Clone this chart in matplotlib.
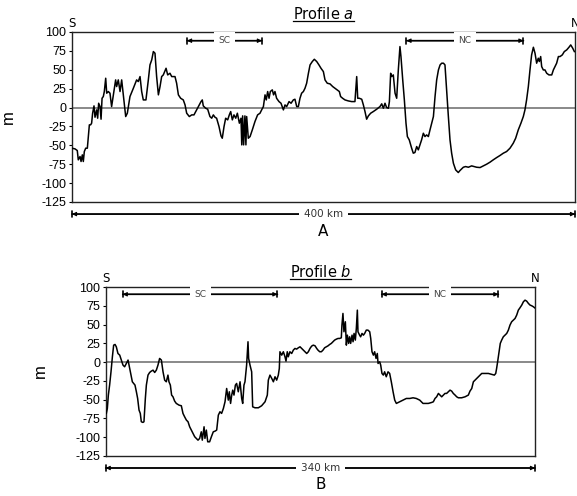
import matplotlib
matplotlib.use("Agg")
import matplotlib.pyplot as plt
from matplotlib.lines import Line2D

# ---------------- data ----------------
a_km = [0.0, 2.4, 4.2, 5.0, 6.4, 7.2, 8.2, 9.0, 9.8, 10.9, 12.2, 13.0, 13.8, 14.8, 15.6,
        16.4, 17.5, 18.3, 19.6, 20.4, 21.2, 22.3, 23.1, 23.9, 24.9, 25.7, 26.8, 27.6, 28.9,
        30.2, 31.5, 32.9, 34.7, 35.5, 36.8, 38.2, 39.5, 40.8, 42.7, 44.0, 46.1, 48.8, 51.4,
        52.7, 54.1, 55.4, 56.7, 58.8, 60.7, 62.0, 63.4, 64.7, 66.0, 67.3, 68.7, 70.0, 71.3,
        72.6, 74.8, 76.1, 77.9, 79.3, 81.9, 83.2, 84.6, 86.4, 88.5, 89.9, 91.2, 93.3, 95.2,
        97.0,
        100.5, 102.6, 103.6, 104.4, 106.3, 107.9, 109.7, 111.1, 112.4, 113.7, 115.0, 116.9,
        118.5, 119.5, 120.9, 122.2, 123.8, 125.1, 126.2, 127.5, 128.8, 130.2, 131.5, 133.1,
        134.4, 135.0, 135.7, 136.5, 137.5, 138.3, 138.9, 140.2, 141.6, 143.4, 145.5, 147.6,
        149.5, 150.8, 152.2, 153.5, 154.5, 155.6, 156.7, 157.7, 159.3, 160.3, 161.4, 162.7,
        164.6, 166.2, 168.1, 169.4, 170.7, 172.6, 174.2, 176.0, 177.3, 178.7, 180.0, 181.3,
        182.6, 184.0, 185.3, 186.6, 188.0, 189.3, 191.1, 192.7, 194.6, 196.4, 198.0,
        199.9, 201.2, 203.0, 205.2, 207.3, 209.1, 211.0, 212.6, 213.6, 215.2, 217.1, 219.7,
        222.4, 225.0, 226.4, 227.2, 228.5, 230.4, 231.7, 233.0, 234.3, 235.7, 237.5, 239.6,
        242.3, 244.9, 246.3, 247.6, 248.9, 250.2, 251.6, 252.4, 253.4, 254.2, 255.5, 256.9,
        258.2, 259.5, 260.8, 261.6, 263.0, 264.3, 265.6, 266.7, 268.2, 270.1, 271.4, 272.7,
        274.1, 275.4, 276.7, 278.0, 279.4, 280.7, 282.0, 283.4, 284.7, 287.4, 288.7, 290.0,
        291.4, 292.7, 294.0, 295.4, 296.6,
        297.9, 299.3, 300.6, 301.9, 303.3, 305.1, 307.2, 308.5, 311.2, 313.0, 315.2, 317.8,
        319.9, 321.8, 324.5, 327.1, 329.7, 332.4, 335.0, 337.7, 340.3, 343.0, 345.6, 348.3,
        350.9, 352.8, 354.9, 357.0, 358.9, 360.2, 361.5, 362.9, 364.2, 365.5, 366.9, 368.2,
        369.5, 370.8, 371.6, 372.7, 373.5, 374.8, 376.1, 377.5, 379.3, 381.5, 382.8, 384.1,
        385.4, 386.8, 388.1, 389.9, 391.5, 393.4, 395.2, 396.6, 398.2, 399.5]
a_m = [-53.8, -54.7, -56.9, -69.2, -64.8, -71.4, -62.6, -71.4, -58.2, -53.8, -53.8, -38.4,
       -22.9, -22.9, -20.7, -7.5, 2.2, -12.8, -3.1, -14.1, 5.7, 1.3, -15.4, 12.3, 14.6, 21.2,
       38.8, 19.0, 21.2, 19.0, 1.3, 16.8, 36.6, 27.8, 36.6, 21.2, 36.6, 16.8, -11.9, -7.5,
       14.6, 25.6, 36.6, 34.4, 41.0, 21.2, 10.1, 10.1, 36.6, 56.4, 63.1, 74.1, 71.9, 41.0,
       16.8, 27.8, 41.0, 43.2, 52.0, 43.2, 45.4, 41.0, 41.0, 32.2, 16.8, 12.3, 10.1, 3.5,
       -7.5, -11.9, -9.7, -9.7,
       1.3, 7.9, 10.1, 2.2, -0.9, -2.2, -11.9, -14.1, -9.7, -12.8, -14.1, -25.1, -37.5,
       -40.6, -25.1, -14.1, -16.3, -9.7, -5.3, -16.3, -9.7, -14.1, -7.5, -20.7, -14.1,
       -49.4, -11.0, -49.4, -11.0, -49.4, -11.9, -40.6, -38.4, -29.5, -18.5, -9.7, -7.5,
       -3.1, 1.3, 16.8, 10.1, 21.2, 12.3, 21.2, 23.4, 16.8, 21.2, 12.3, 7.9, 5.7, -3.1,
       3.5, 1.3, 7.9, 5.7, 10.1, 11.0, 1.3, 1.3, 12.3, 19.0, 21.2, 25.6, 32.2, 45.4, 56.4,
       60.9, 63.9, 60.9, 56.4, 52.0,
       47.6, 36.6, 32.2, 31.3, 27.8, 25.6, 23.4, 21.2, 14.6, 12.3, 10.1, 8.8, 7.9, 7.9,
       41.0, 12.3, 12.3, 11.0, 3.5, -5.3, -15.4, -11.0, -7.5, -5.3, -2.2, 1.3, 4.9, -0.9,
       5.7, 0.0, -0.9, 7.9, 45.4, 41.0, 43.2, 19.0, 12.3, 49.8, 80.7, 67.5, 36.6, 10.1,
       -20.7, -38.4, -42.8, -53.8, -60.4, -59.5, -51.6, -56.0, -49.4, -42.8, -34.0, -38.4,
       -36.2, -38.4, -29.5, -11.9, 14.6, 36.6, 49.8, 56.4, 58.7, 58.7, 56.4,
       23.4, -11.9, -42.8, -60.4, -73.7, -82.5, -86.0, -83.4, -79.0, -78.1, -79.0, -77.2,
       -78.1, -79.0, -79.4, -77.2, -75.0, -72.3, -69.2, -66.2, -63.5, -60.4, -58.2, -53.8,
       -47.2, -40.6, -29.5, -20.7, -11.9, -3.1, 10.1, 27.8, 49.8, 69.7, 79.8, 71.9, 58.7,
       65.3, 60.9, 67.5, 54.2, 49.8, 49.8, 45.4, 43.2, 43.2, 49.8, 54.2, 58.7, 67.5, 67.5,
       69.7, 74.1, 76.3, 79.8, 82.9, 78.5, 74.1]

b_km = [0.5, 1.3, 2.1, 3.1, 4.2, 5.3, 6.3, 7.4, 8.4, 9.7, 11.1, 12.4, 13.7, 15.0, 16.3,
        17.7, 18.5, 19.5, 21.1, 22.1, 23.2, 24.3, 25.3, 26.4, 27.4, 28.2, 29.5, 30.3, 31.4,
        32.2, 33.5, 34.8, 36.1, 37.5, 38.8, 40.1, 41.4, 42.7, 44.1, 45.4, 46.7, 48.0, 49.3,
        50.1, 51.2, 52.2, 53.3, 54.6, 55.9, 58.1, 59.9, 61.2, 62.5, 63.9, 65.2, 66.5, 67.8,
        69.1, 70.5, 71.8, 73.1, 74.4, 75.7, 76.5, 77.9, 78.6, 79.7, 80.8, 82.3, 83.7,
        85.2, 86.6, 87.9, 89.2, 90.5, 91.8, 93.2, 94.5, 95.8, 97.1, 97.9, 98.9, 99.8, 100.6,
        101.6, 102.7, 103.7, 105.0, 106.4, 107.7, 108.5, 109.5, 110.3, 111.6, 112.7, 113.2,
        114.3, 115.6, 116.4, 118.2, 120.9, 123.5, 126.2, 128.0, 128.8, 130.1, 131.5, 132.8,
        134.1, 135.4, 136.7, 137.5, 138.0, 139.4, 140.7, 142.0, 142.8, 143.8, 144.6, 145.9,
        147.3, 148.6, 149.9, 151.2, 152.6, 153.9, 155.2, 156.5, 157.8, 159.2, 160.5, 161.8,
        163.1, 164.4, 165.8, 167.1,
        168.1, 169.5, 170.8, 172.1, 173.4, 174.7, 176.1, 177.4, 178.7, 180.0, 181.3, 182.7,
        184.0, 185.3, 186.6, 187.1, 187.9, 188.7, 189.8, 190.6, 191.4, 192.4, 193.2, 194.0,
        195.1, 195.9, 196.7, 197.7, 198.5, 199.3, 199.8, 201.1, 201.9, 203.0, 204.1, 205.1,
        206.4, 207.7, 209.1, 209.9, 210.9, 212.0, 213.0, 214.1, 215.1, 215.7, 217.0, 217.8,
        218.8, 219.9, 220.9, 222.2, 223.6, 224.9, 226.2, 227.6, 228.9, 230.2, 232.8, 235.5,
        238.1, 240.8, 243.4, 246.0, 248.7, 251.3,
        252.9, 255.5, 258.2, 259.5, 260.8, 262.1, 263.5, 264.8, 266.1, 267.4, 268.7, 270.0,
        271.4, 272.7, 274.0, 275.3, 276.7, 278.0, 279.3, 281.9, 284.6, 287.2, 288.5, 289.9,
        291.2, 292.5, 293.8, 295.1, 296.5, 297.8, 300.4, 303.1, 305.7, 307.8, 308.9, 309.6,
        310.4, 311.5, 312.5, 313.6, 314.9, 316.2, 317.6, 318.9, 320.2, 321.5, 322.8, 324.2,
        325.5, 326.8, 328.1, 329.5, 330.8, 332.1, 333.4, 334.8, 336.1, 337.4, 338.7, 340.0]
b_m = [-68.3, -61.7, -43.9, -30.6, -12.9, 7.1, 22.6, 23.5, 20.4, 11.5, 9.3, 2.7, -4.0, -6.2,
       -1.8, 2.7, -4.0, -12.9, -26.2, -28.4, -30.6, -39.5, -48.4, -63.9, -68.3, -79.4,
       -80.3, -79.4, -48.4, -30.6, -17.3, -13.8, -12.0, -10.7, -13.8, -10.7, -4.0, 4.9, 2.7,
       -12.9, -24.0, -26.2, -17.3, -26.2, -30.6, -43.9, -46.2, -51.9, -55.0, -57.3, -58.1,
       -68.3, -72.8, -77.2, -79.4, -86.1, -90.5, -95.0, -99.4, -101.6, -103.9, -101.6,
       -92.8, -103.9, -86.1, -101.6, -90.5, -106.1, -106.1, -99.4,
       -92.8, -91.9, -90.5, -70.6, -66.1, -68.3, -61.7, -52.8, -35.1, -50.6, -39.5, -55.0,
       -43.9, -37.3, -43.9, -30.6, -28.4, -39.5, -26.2, -48.4, -55.0, -30.6, -26.2, -4.0,
       27.1, 4.9, -4.0, -12.9, -59.5, -60.8, -60.8, -58.1, -52.8, -43.9, -24.0, -17.3,
       -21.7, -26.2, -19.5, -24.0, -17.3, -8.4, 13.8, 9.3, 13.8, 7.1, 1.3, 13.8, 7.1, 13.8,
       11.5, 16.0, 18.2, 17.3, 19.1, 20.4, 18.2, 16.0, 13.8, 11.5, 13.8, 18.2, 21.3, 22.6,
       21.7, 18.2,
       16.0, 13.8, 13.8, 16.0, 19.1, 20.4, 21.7, 23.5, 24.9, 27.1, 29.3, 30.6, 31.5, 31.5,
       32.4, 49.3, 64.8, 40.4, 53.7, 22.6, 35.9, 24.9, 33.7, 24.9, 35.9, 27.1, 38.2, 29.3,
       44.8, 69.2, 40.4, 35.9, 33.7, 38.2, 35.9, 38.2, 42.6, 42.6, 40.4, 31.5, 13.8, 9.3,
       13.8, 4.9, 11.5, -1.8, 0.4, -4.0, -15.1, -17.3, -12.9, -19.5, -12.9, -15.1, -26.2,
       -39.5, -50.6, -55.0, -52.8, -50.6, -48.4, -48.4, -47.5, -48.4, -50.6, -55.0,
       -55.0, -55.0, -53.7, -52.8, -48.4, -46.2, -41.7, -43.9, -46.2, -43.9, -41.7, -41.7,
       -39.5, -37.3, -38.6, -41.7, -43.9, -46.2, -47.5, -47.5, -46.2, -43.9, -38.6, -35.1,
       -26.2, -24.0, -21.7, -19.5, -17.3, -15.1, -15.1, -15.1, -16.4, -17.3, -15.1, -8.4,
       0.4, 13.8, 24.9, 29.3, 33.7, 35.9, 38.2, 42.6, 49.3, 53.7, 55.9, 58.1, 62.6, 69.2,
       72.3, 75.9, 80.3, 82.5, 81.2, 78.1, 75.9, 75.0, 73.7, 72.0]

y_ticks = [100, 75, 50, 25, 0, -25, -50, -75, -100, -125]
a_len_km = 400
b_len_km = 340
a_zones = [("SC", 91.5, 151.0, 88.5), ("NC", 266.0, 359.0, 88.5)]
b_zones = [("SC", 13.5, 136.0, 90.3), ("NC", 218.6, 311.0, 90.3)]

# ---------------- figure ----------------
W, H = 577, 496
fig = plt.figure(figsize=(W / 100, H / 100), dpi=100)
plt.rcParams['mathtext.fontset'] = 'dejavusans'
TICKFONT = 'Liberation Sans'
TXT = 'DejaVu Sans'


def axes_rect(l, r, t, b):
    return [l / W, (H - b) / H, (r - l) / W, (b - t) / H]


def range_arrow(ax, x0, x1, y, label, coords, fs, color='#333333', lw=0.8):
    ax.annotate('', xy=(x0, y), xytext=(x1, y), xycoords=coords, textcoords=coords,
                arrowprops=dict(arrowstyle='<|-|>', color='black', lw=lw,
                                shrinkA=0, shrinkB=0, mutation_scale=6),
                annotation_clip=False)
    ax.annotate('', xy=(x0, y), xytext=(x1, y), xycoords=coords, textcoords=coords,
                arrowprops=dict(arrowstyle='|-|', color='black', lw=1.2,
                                shrinkA=0, shrinkB=0, mutation_scale=2.2),
                annotation_clip=False)
    ax.annotate(label, xy=((x0 + x1) / 2, y), xycoords=coords, ha='center', va='center',
                fontsize=fs, color=color, family=TXT, annotation_clip=False,
                bbox=dict(boxstyle='square,pad=0.5', fc='white', ec='none'))


def panel(ax, km, m, length, zones, title_it, letter, label_x, km_text, title_y, letter_y):
    ax.plot(km, m, color='black', lw=1.1, zorder=3)
    ax.axhline(0, color='#808080', lw=1.3, zorder=2)
    ax.set_xlim(0, length)
    ax.set_ylim(-125, 100)
    ax.set_yticks(y_ticks)
    ax.set_yticklabels([str(v) for v in y_ticks], family=TICKFONT, fontsize=9)
    ax.set_xticks([])
    ax.tick_params(axis='y', length=2.5, width=0.8, pad=1.5)
    for s in ax.spines.values():
        s.set_linewidth(1.0)
        s.set_color('#222222')
    ax.set_ylabel('m', fontsize=12, family=TICKFONT)
    ax.yaxis.set_label_coords(label_x, 0.5)
    for name, x0, x1, y in zones:
        range_arrow(ax, x0, x1, y, name, 'data', 6.5, color='#444444')
    range_arrow(ax, 0, length, -0.071, km_text, ('data', 'axes fraction'), 7.5)
    ax.text(0.5, letter_y, letter, transform=ax.transAxes, ha='center', va='center',
            fontsize=11, family=TXT)
    ax.text(0.0, 1.05, 'S', transform=ax.transAxes, ha='center', va='center',
            fontsize=8.5, family=TXT)
    ax.text(1.0, 1.05, 'N', transform=ax.transAxes, ha='center', va='center',
            fontsize=8.5, family=TXT)
    t = ax.text(0.5, title_y, 'Profile $\\mathit{' + title_it + '}$', transform=ax.transAxes,
                ha='center', va='center', fontsize=10.5, family=TXT)
    return t


axA = fig.add_axes(axes_rect(72, 575, 32, 202))
axB = fig.add_axes(axes_rect(105.7, 535, 287, 456))

tA = panel(axA, a_km, a_m, a_len_km, a_zones, 'a', 'A', -0.111, f'{a_len_km} km', 1.107, -0.176)
tB = panel(axB, b_km, b_m, b_len_km, b_zones, 'b', 'B', -0.134, f'{b_len_km} km', 1.09, -0.166)

# underline titles
fig.canvas.draw()
for t in (tA, tB):
    bb = t.get_window_extent()
    y = bb.y0 + 1
    fig.add_artist(Line2D([bb.x0 / W, bb.x1 / W], [y / H, y / H], color='black', lw=0.9,
                          transform=fig.transFigure))

fig.savefig('out.png', dpi=100)
